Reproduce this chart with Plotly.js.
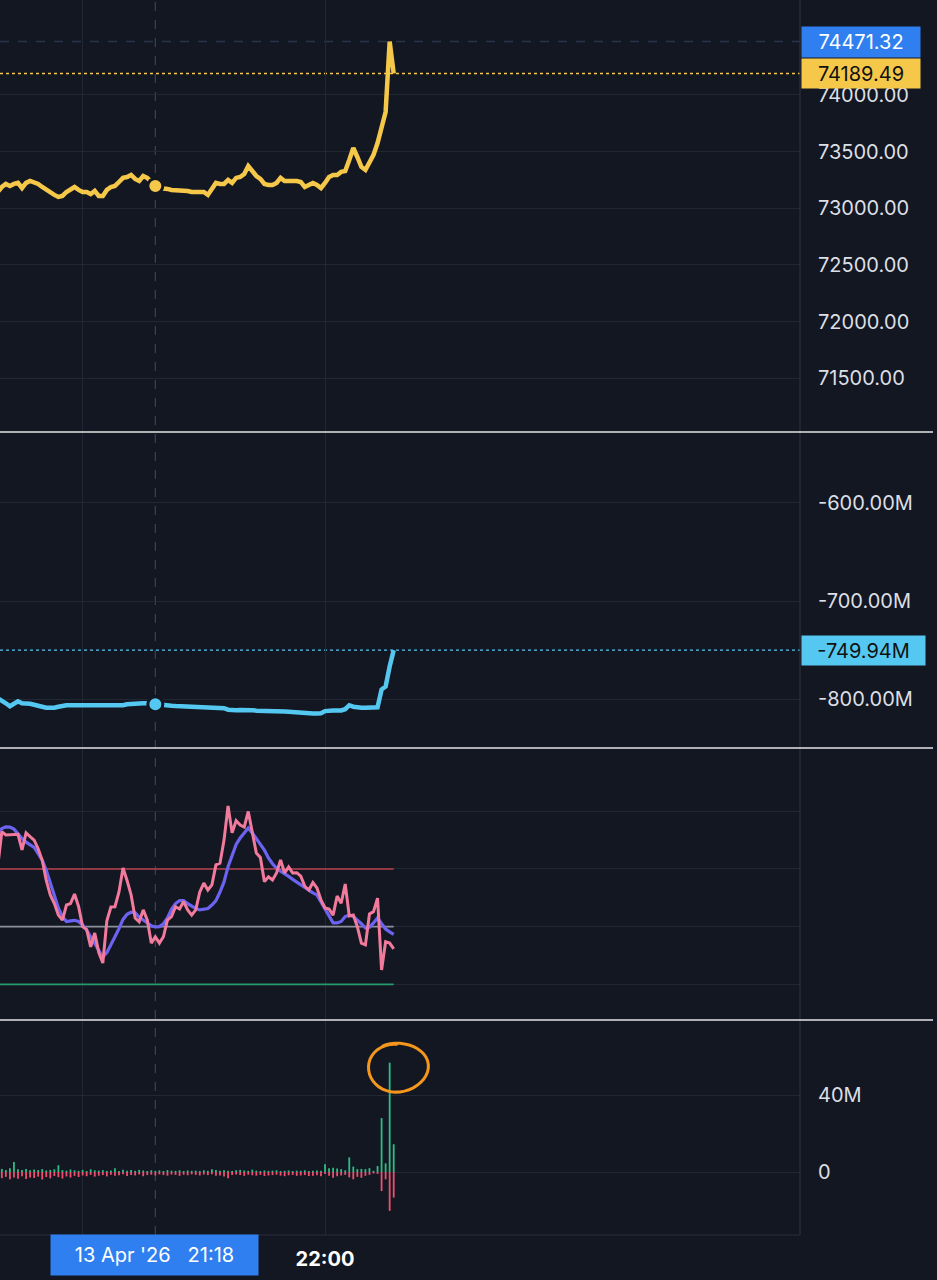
<!DOCTYPE html>
<html>
<head>
<meta charset="utf-8">
<script src="https://cdn.plot.ly/plotly-3.0.1.min.js"></script>
<style>
  html, body { margin: 0; padding: 0; background: #131722; }
  #chart { width: 937px; height: 1280px; }
</style>
</head>
<body>
<div id="chart"></div>
<script>
// ---------- DATA (1-minute points, 13 Apr 2026, 20:39 → 22:17) ----------
const startHour = 20, startMinute = 39, pointCount = 99;
const times = [];
for (let i = 0; i < pointCount; i++) {
  const t = startHour * 60 + startMinute + i;
  times.push('2026-04-13 ' + String(Math.floor(t / 60)).padStart(2, '0') + ':' + String(t % 60).padStart(2, '0') + ':00');
}

const price = [
  73144, 73188, 73215, 73197, 73215, 73224, 73179, 73224, 73241, 73232,
  73215, 73188, 73162, 73135, 73118, 73100, 73109, 73144, 73162, 73188,
  73162, 73144, 73144, 73126, 73153, 73109, 73109, 73162, 73188, 73197,
  73232, 73268, 73276, 73294, 73259, 73241, 73285, 73268, 73232, 73197,
  73179, 73179, 73171, 73162, 73162, 73153, 73153, 73153, 73144, 73144,
  73135, 73144, 73118, 73179, 73224, 73215, 73215, 73250, 73224, 73268,
  73276, 73303, 73373, 73329, 73285, 73259, 73215, 73206, 73206, 73224,
  73268, 73241, 73241, 73250, 73241, 73232, 73188, 73206, 73224, 73206,
  73179, 73224, 73276, 73294, 73294, 73321, 73329, 73426, 73532, 73453,
  73365, 73338, 73409, 73471, 73576, 73718, 73850, 74471.32, 74189.49
];

const flowM = [
  -799, -801, -804, -807, -805, -802, -804, -804, -804.5, -805.5,
  -807, -807.5, -808.5, -809, -808.5, -807.5, -806.5, -806, -806, -806,
  -806, -805.8, -806.2, -806, -805.9, -806.1, -806.3, -806, -805.7, -806,
  -806.2, -806, -805, -804.5, -804.5, -804, -804, -804, -804.5, -805,
  -806, -806, -806.5, -806.5, -806.8, -807, -807.3, -807.3, -807, -807,
  -807.3, -808, -808.3, -808.3, -808, -808, -809, -810.5, -811, -811,
  -810.8, -810.5, -810.3, -811, -811.5, -811.8, -812, -812.2, -812.2, -812.4,
  -812.4, -812.5, -812.6, -813, -813.5, -814, -814.4, -814.4, -814.4, -814.4,
  -814.2, -812, -811.4, -811.4, -811.4, -811.3, -810, -806, -807.5, -808.3,
  -808.6, -808.5, -808.3, -808.3, -808, -790, -787, -766.6, -749.94
];

const rsi = [
  71, 82.9, 81.8, 81.8, 82, 82, 76.6, 82.5, 81.2, 80,
  77, 73, 66, 61, 58, 54, 52.3, 57.5, 58, 61.3,
  57, 50, 49, 43, 47.8, 41, 37.4, 52, 56.8, 56.9,
  62, 70.3, 66, 61, 53, 51.7, 55.8, 52.3, 44.3, 46.5,
  44.3, 46.5, 52.3, 53.5, 56.9, 56.1, 58.7, 55.8, 54, 55.8,
  62, 65.1, 62.7, 64.5, 71.4, 72, 80, 91.8, 82.5, 86.7,
  85.2, 84.5, 89.9, 83, 75.5, 74, 65.6, 67.3, 66.2, 68.6,
  73.1, 68.6, 70.7, 68.6, 68.7, 67.5, 64, 62.7, 65.3, 63.4,
  59.3, 56.5, 56.1, 54, 60.6, 58.1, 64.8, 53.7, 54, 50,
  44.3, 43.7, 54.4, 55.2, 59.9, 35, 44.8, 44.3, 42.3
];

const rsiMa = [
  82.5, 84, 84.6, 84.5, 83.8, 82, 80.5, 79.3, 78.4, 77.5,
  75.3, 73, 69.5, 65, 61, 56.5, 53.5, 51.8, 52, 52.2,
  51.8, 50.6, 48.8, 46.5, 44, 41.5, 39.5, 41, 43.5, 46.5,
  49.3, 52.5, 54.3, 55, 54.8, 53.3, 52.3, 51.3, 50.3, 49.9,
  50, 51, 53, 56, 58, 59, 59, 58, 57, 56.3,
  55.8, 56, 56.3, 57.5, 59, 62, 65.5, 70.8, 75, 78.5,
  80.7, 82.5, 84.2, 82.5, 80.3, 78.5, 76.5, 73.8, 71.8, 70.2,
  69.2, 68.4, 67.4, 66.4, 65.4, 64.7, 63.6, 62.4, 61.7, 61,
  58.5, 55.8, 53.5, 51.3, 51.3, 51.8, 53.5, 54, 53.5, 52.3,
  51, 49.5, 49.8, 51.3, 53, 51, 49.2, 48.2, 47.3
];

const rsiLevels = [70, 50, 30];

const buyVolM = [
  1.2, 1.6, 1.0, 1.9, 5.2, 1.4, 1.1, 1.6, 0.9, 1.3, 1.0, 1.5, 0.8,
  1.1, 1.4, 3.5, 1.0, 0.7, 1.3, 0.9, 0.6, 1.1, 0.5, 1.4, 0.9, 0.7,
  1.0, 0.6, 0.8, 1.9, 0.5, 1.2, 0.7, 1.0, 0.6, 1.1, 0.8, 0.5, 0.9,
  0.6, 0.8, 0.5, 1.0, 0.7, 0.6, 0.9, 0.5, 0.8, 0.6, 0.7, 0.5, 0.9,
  0.6, 1.4, 1.0, 0.7, 0.9, 0.6, 0.5, 0.9, 1.1, 0.8, 0.6, 1.2, 0.7,
  0.5, 0.8, 0.6, 0.7, 0.9, 0.5, 0.6, 0.8, 0.5, 0.7, 0.6, 0.9, 0.5,
  0.6, 0.8, 0.7, 4.0, 2.0, 2.2, 1.8, 1.5, 0.9, 7.6, 2.8, 1.5, 1.6,
  1.5, 2.0, 0.6, 3.1, 28.0, 4.5, 56.8, 14.4
];

const sellVolM = [
  -6.0, -3.2, -2.5, -3.8, -2.9, -3.5, -2.2, -3.6, -2.8, -3.1, -2.4, -3.9, -2.6,
  -3.3, -2.1, -2.7, -3.4, -2.3, -2.9, -2.0, -2.6, -1.8, -2.2, -1.5, -2.4, -1.9,
  -1.6, -2.3, -1.4, -2.0, -1.7, -1.2, -2.1, -1.5, -1.8, -1.3, -2.2, -1.6, -1.4,
  -1.8, -1.2, -1.6, -1.9, -1.3, -1.5, -2.0, -1.4, -1.7, -1.2, -1.5, -1.8, -1.3,
  -1.6, -1.2, -2.0, -1.8, -2.4, -3.3, -1.5, -1.3, -1.6, -2.0, -1.4, -1.7, -1.9,
  -1.5, -2.1, -1.8, -1.6, -1.4, -1.9, -2.2, -1.7, -1.5, -2.0, -1.8, -1.6, -2.1,
  -1.9, -1.7, -2.2, -1.0, -2.0, -3.0, -2.2, -1.8, -1.5, -2.8, -3.8, -2.5, -3.0,
  -2.0, -1.5, -0.8, -1.0, -9.9, -3.8, -20.2, -13.3
];

const priceTicks = [71500, 72000, 72500, 73000, 73500, 74000];
const flowTicks = [-800, -700, -600];
const flowTickText = ['-800.00M', '-700.00M', '-600.00M'];
const volTicks = [0, 40];
const volTickText = ['0', '40M'];
const rsiGrid = [30, 50, 70, 90];
const timeTicks = ['2026-04-13 21:00:00', '2026-04-13 22:00:00'];
const timeTickText = ['', '22:00'];
const highPrice = 74471.32;
const lastPrice = 74189.49;
const lastFlow = -749.94;
const crossIndex = 39;             // 21:18
const crossLabel = "13 Apr '26\u00a0\u00a0\u00a021:18";

// ---------- STYLE ----------
const BG = '#131722';
const GRID = '#222735';
const TXT = '#dcdfe5';
const FONT = 'Inter, "Noto Sans", sans-serif';
const YELLOW = '#f6c84a';
const CYAN = '#55c8f2';
const PINK = '#f27b9d';
const PURPLE = '#6c63f0';
const GREEN = '#2ebd85';
const RED = '#f0506e';
const BLUE_BOX = '#2f7ff0';

const H = 1235; // plot-area height in px (top margin 0)
const W = 800;
const d1 = [1 - 432 / H, 1];
const d2 = [1 - 748 / H, 1 - 432 / H];
const d3 = [1 - 1020 / H, 1 - 748 / H];
const d4 = [0, 1 - 1020 / H];

// volume bars drawn as thin vertical strokes from 0 to each value
function stems(values) {
  const xs = [], ys = [];
  for (let i = 0; i < values.length; i++) {
    xs.push(times[i], times[i], null);
    ys.push(0, values[i], null);
  }
  return { xs, ys };
}
const buyStems = stems(buyVolM);
const sellStems = stems(sellVolM);

const traces = [
  { x: times, y: price, type: 'scatter', mode: 'lines', yaxis: 'y',
    line: { color: YELLOW, width: 4.5 }, hoverinfo: 'skip' },
  { x: [times[crossIndex]], y: [price[crossIndex]], type: 'scatter', mode: 'markers', yaxis: 'y',
    marker: { color: YELLOW, size: 15, line: { color: BG, width: 3 } }, hoverinfo: 'skip' },

  { x: times, y: flowM, type: 'scatter', mode: 'lines', yaxis: 'y2',
    line: { color: CYAN, width: 4.5 }, hoverinfo: 'skip' },
  { x: [times[crossIndex]], y: [flowM[crossIndex]], type: 'scatter', mode: 'markers', yaxis: 'y2',
    marker: { color: CYAN, size: 15, line: { color: BG, width: 3 } }, hoverinfo: 'skip' },

  { x: [times[0], times[pointCount - 1]], y: [rsiLevels[0], rsiLevels[0]], type: 'scatter', mode: 'lines', yaxis: 'y3',
    line: { color: '#b8434f', width: 1.6 }, hoverinfo: 'skip' },
  { x: [times[0], times[pointCount - 1]], y: [rsiLevels[1], rsiLevels[1]], type: 'scatter', mode: 'lines', yaxis: 'y3',
    line: { color: '#8d919c', width: 1.6 }, hoverinfo: 'skip' },
  { x: [times[0], times[pointCount - 1]], y: [rsiLevels[2], rsiLevels[2]], type: 'scatter', mode: 'lines', yaxis: 'y3',
    line: { color: '#259a6c', width: 1.6 }, hoverinfo: 'skip' },
  { x: times, y: rsiMa, type: 'scatter', mode: 'lines', yaxis: 'y3',
    line: { color: PURPLE, width: 3.2 }, hoverinfo: 'skip' },
  { x: times, y: rsi, type: 'scatter', mode: 'lines', yaxis: 'y3',
    line: { color: PINK, width: 3 }, hoverinfo: 'skip' },

  { x: sellStems.xs, y: sellStems.ys, type: 'scatter', mode: 'lines', yaxis: 'y4', connectgaps: false,
    line: { color: RED, width: 1.8 }, hoverinfo: 'skip' },
  { x: buyStems.xs, y: buyStems.ys, type: 'scatter', mode: 'lines', yaxis: 'y4', connectgaps: false,
    line: { color: GREEN, width: 1.8 }, hoverinfo: 'skip' }
];

const yCommon = {
  side: 'right', anchor: 'x', showline: false, zeroline: false,
  gridcolor: GRID, gridwidth: 1, ticks: 'outside', ticklen: 13, tickcolor: 'rgba(0,0,0,0)',
  tickfont: { family: FONT, size: 20, color: TXT }, fixedrange: true
};

// hand-drawn orange loop around the volume spike (pixel → paper)
function px(x) { return x / W; }
function py(y) { return 1 - y / H; }
let loop = '';
const cx = 397, cy = 1066;
for (let k = 0; k <= 44; k++) {
  const a = -2.1 + k * (2 * Math.PI + 0.55) / 44;
  const rx = 30 + 1.5 * Math.sin(k / 7);
  const ry = 24 - 1.2 * Math.cos(k / 9);
  const x = cx + rx * Math.cos(a);
  const y = cy + ry * Math.sin(a) + (k / 44) * 2;
  loop += (k === 0 ? 'M' : 'L') + px(x).toFixed(5) + ',' + py(y).toFixed(5) + ' ';
}

const shapes = [
  { type: 'line', xref: 'x', yref: 'paper', x0: times[crossIndex], x1: times[crossIndex], y0: 0, y1: 1,
    line: { color: '#3a4254', width: 1.2, dash: 'dash' }, layer: 'below' },
  { type: 'line', xref: 'paper', yref: 'y', x0: 0, x1: 1, y0: highPrice, y1: highPrice,
    line: { color: '#2a3447', width: 1.5, dash: 'dash' }, layer: 'below' },
  { type: 'line', xref: 'paper', yref: 'y', x0: 0, x1: 1, y0: lastPrice, y1: lastPrice,
    line: { color: YELLOW, width: 1.3, dash: 'dot' }, layer: 'below' },
  { type: 'line', xref: 'paper', yref: 'y2', x0: 0, x1: 1, y0: lastFlow, y1: lastFlow,
    line: { color: CYAN, width: 1.3, dash: 'dot' }, layer: 'below' },
  { type: 'line', xref: 'paper', yref: 'paper', x0: 1, x1: 1, y0: 0, y1: 1,
    line: { color: '#2a2f3c', width: 1.2 } },
  { type: 'line', xref: 'paper', yref: 'paper', x0: 0, x1: 1, y0: 0, y1: 0,
    line: { color: '#2a2f3c', width: 1.2 } },
  { type: 'line', xref: 'paper', yref: 'paper', x0: 0, x1: 933 / W, y0: d1[0], y1: d1[0],
    line: { color: '#e6e6e6', width: 1.6 } },
  { type: 'line', xref: 'paper', yref: 'paper', x0: 0, x1: 933 / W, y0: d2[0], y1: d2[0],
    line: { color: '#e6e6e6', width: 1.6 } },
  { type: 'line', xref: 'paper', yref: 'paper', x0: 0, x1: 933 / W, y0: d3[0], y1: d3[0],
    line: { color: '#e6e6e6', width: 1.6 } },
  { type: 'path', xref: 'paper', yref: 'paper', path: loop,
    line: { color: '#f5961d', width: 3 } }
];

const annotations = [
  { xref: 'paper', yref: 'y', x: 1, y: highPrice, xanchor: 'left', yanchor: 'middle', xshift: 1,
    text: highPrice.toFixed(2), showarrow: false, bgcolor: BLUE_BOX, width: 118, height: 30, borderpad: 0,
    align: 'center', font: { family: FONT, size: 20, color: '#ffffff' } },
  { xref: 'paper', yref: 'y', x: 1, y: lastPrice, xanchor: 'left', yanchor: 'middle', xshift: 1,
    text: lastPrice.toFixed(2), showarrow: false, bgcolor: YELLOW, width: 118, height: 29, borderpad: 0,
    align: 'center', font: { family: FONT, size: 20, color: '#111111' } },
  { xref: 'paper', yref: 'y2', x: 1, y: lastFlow, xanchor: 'left', yanchor: 'middle', xshift: 1,
    text: lastFlow.toFixed(2) + 'M', showarrow: false, bgcolor: CYAN, width: 123, height: 29, borderpad: 0,
    align: 'center', font: { family: FONT, size: 20, color: '#111111' } },
  { xref: 'paper', yref: 'paper', x: 154 / W, y: 1 - 1255 / H, xanchor: 'center', yanchor: 'middle',
    text: crossLabel, showarrow: false, bgcolor: BLUE_BOX, width: 207, height: 40, borderpad: 0,
    align: 'center', font: { family: FONT, size: 20, color: '#ffffff' } }
];

const layout = {
  width: 937, height: 1280,
  margin: { l: 0, r: 137, t: 0, b: 45 },
  paper_bgcolor: BG, plot_bgcolor: BG,
  showlegend: false,
  xaxis: {
    type: 'date', anchor: 'y4',
    range: ['2026-04-13 20:39:33', '2026-04-13 23:57:34'],
    tickvals: timeTicks, ticktext: timeTickText,
    showgrid: true, gridcolor: GRID, gridwidth: 1,
    zeroline: false, showline: false,
    ticks: 'outside', ticklen: 6, tickcolor: 'rgba(0,0,0,0)',
    tickfont: { family: FONT, size: 20, color: '#ffffff', weight: 'bold' },
    fixedrange: true
  },
  yaxis: Object.assign({}, yCommon, {
    domain: d1, range: [71026, 74838], tickvals: priceTicks, tickformat: '.2f'
  }),
  yaxis2: Object.assign({}, yCommon, {
    domain: d2, range: [-849.5, -528.1], tickvals: flowTicks, ticktext: flowTickText
  }),
  yaxis3: Object.assign({}, yCommon, {
    domain: d3, range: [17.66, 111.9], tickvals: rsiGrid, showticklabels: false
  }),
  yaxis4: Object.assign({}, yCommon, {
    domain: d4, range: [-32.73, 78.96], tickvals: volTicks, ticktext: volTickText
  }),
  shapes: shapes,
  annotations: annotations
};

Plotly.newPlot('chart', traces, layout, { staticPlot: true, displayModeBar: false });
</script>
</body>
</html>
